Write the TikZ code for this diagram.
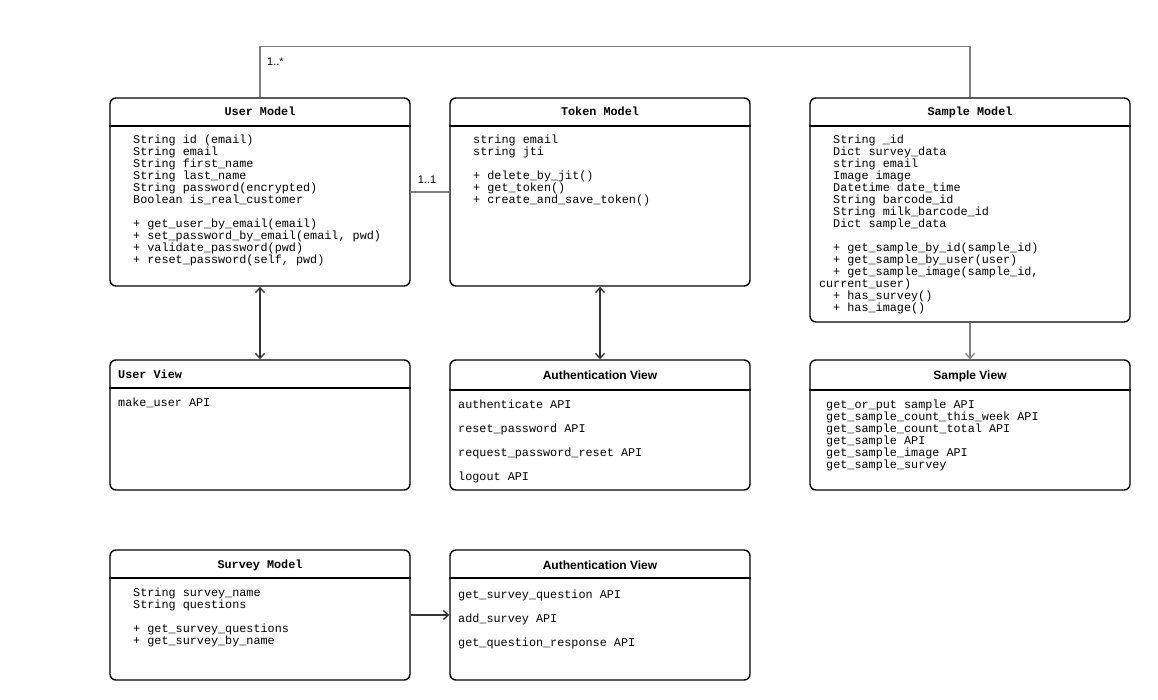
\documentclass[tikz,border=0pt]{standalone}
\usepackage{fontspec}
\setmainfont{Liberation Sans}
\setsansfont{Liberation Sans}
\setmonofont{Liberation Mono}
\usepackage{tikz}
\usetikzlibrary{arrows.meta, positioning}

\begin{document}
\begin{tikzpicture}[x=1pt, y=-1pt,
        umlbox/.style={draw, line width=1.4pt, rounded corners=6pt, inner sep=0pt},
        sepline/.style={line width=1.4pt},
        mono/.style={font=\ttfamily\fontsize{11.8}{12}\selectfont, align=left, anchor=base west, inner sep=0pt},
        monowide/.style={font=\ttfamily\fontsize{11.8}{24}\selectfont, align=left, anchor=base west, inner sep=0pt},
        headmono/.style={font=\ttfamily\bfseries\fontsize{11.8}{12}\selectfont, anchor=base, inner sep=0pt},
        headsans/.style={font=\sffamily\bfseries\fontsize{12}{14}\selectfont, anchor=base, inner sep=0pt},
        mult/.style={font=\sffamily\fontsize{11}{13}\selectfont, inner sep=0pt},
        link/.style={draw=gray, line width=1.3pt},
        tip/.tip={Straight Barb[length=5pt, width=9pt]},
        dbl/.style={draw=black!80, line width=1.3pt, tip-tip},
        one/.style={draw=black!80, line width=1.3pt, -tip}]
        \useasboundingbox (0,0) rectangle (1158,700);
        % boxes
        \node[umlbox, minimum width=300pt, minimum height=188pt] (user) at (260,192) {};
        \node[umlbox, minimum width=300pt, minimum height=188pt] (token) at (600,192) {};
        \node[umlbox, minimum width=320pt, minimum height=224pt] (sample) at (970,210) {};
        \node[umlbox, minimum width=300pt, minimum height=130pt] (userview) at (260,425) {};
        \node[umlbox, minimum width=300pt, minimum height=130pt] (authview) at (600,425) {};
        \node[umlbox, minimum width=320pt, minimum height=130pt] (sampleview) at (970,425) {};
        \node[umlbox, minimum width=300pt, minimum height=130pt] (survey) at (260,615) {};
        \node[umlbox, minimum width=300pt, minimum height=130pt] (surveyview) at (600,615) {};
        % header lines
        \draw[sepline] (user.west |- 0,126) -- (user.east |- 0,126);
        \draw[sepline] (token.west |- 0,126) -- (token.east |- 0,126);
        \draw[sepline] (sample.west |- 0,126) -- (sample.east |- 0,126);
        \draw[sepline] (userview.west |- 0,388) -- (userview.east |- 0,388);
        \draw[sepline] (authview.west |- 0,390) -- (authview.east |- 0,390);
        \draw[sepline] (sampleview.west |- 0,390) -- (sampleview.east |- 0,390);
        \draw[sepline] (survey.west |- 0,578) -- (survey.east |- 0,578);
        \draw[sepline] (surveyview.west |- 0,578) -- (surveyview.east |- 0,578);
        % headers
        \node[headmono] (userhd) at (260,116) {User Model};
        \node[headmono] (tokenhd) at (600,116) {Token Model};
        \node[headmono] (samplehd) at (970,116) {Sample Model};
        \node[headmono, anchor=base west] (userviewhd) at (118,378) {User View};
        \node[headsans] (authviewhd) at (600,379) {Authentication View};
        \node[headsans] (sampleviewhd) at (970,379) {Sample View};
        \node[headmono] (surveyhd) at (260,568) {Survey Model};
        \node[headsans] (surveyviewhd) at (600,569) {Authentication View};
        % contents (anchored at the baseline of the last line)
        \node[mono] (userattr) at (133,264) {String id (email)\\String email\\String first\_name\\String last\_name\\String password(encrypted)\\Boolean is\_real\_customer\\[12pt]+ get\_user\_by\_email(email)\\+ set\_password\_by\_email(email, pwd)\\+ validate\_password(pwd)\\+ reset\_password(self, pwd)};
        \node[mono] (tokenattr) at (473,204) {string email\\string jti\\[12pt]+ delete\_by\_jit()\\+ get\_token()\\+ create\_and\_save\_token()};
        \node[mono] (sampleattr) at (833,312) {String \_id\\Dict survey\_data\\string email\\Image image\\Datetime date\_time\\String barcode\_id\\String milk\_barcode\_id\\Dict sample\_data\\[12pt]+ get\_sample\_by\_id(sample\_id)\\+ get\_sample\_by\_user(user)\\+ get\_sample\_image(sample\_id,\\\llap{cu}rrent\_user)\\+ has\_survey()\\+ has\_image()};
        \node[mono] (userviewapi) at (118,406) {make\_user API};
        \node[monowide] (authviewapi) at (458,480) {authenticate API\\reset\_password API\\request\_password\_reset API\\logout API};
        \node[mono] (sampleviewapi) at (826,468) {get\_or\_put sample API\\get\_sample\_count\_this\_week API\\get\_sample\_count\_total API\\get\_sample API\\get\_sample\_image API\\get\_sample\_survey};
        \node[mono] (surveyattr) at (133,644) {String survey\_name\\String questions\\[12pt]+ get\_survey\_questions\\+ get\_survey\_by\_name};
        \node[monowide] (surveyviewapi) at (458,646) {get\_survey\_question API\\add\_survey API\\get\_question\_response API};
        % connectors
        \draw[link] (user.north) -- ++(0,-51) coordinate (turn) -| (sample.north);
        \node[mult, below right=11pt and 7pt of turn] (manyA) {1..*};
        \draw[link] (user) -- node[mult, above=8pt, xshift=-3pt] (oneA) {1..1} (token);
        \draw[dbl] (user) -- (userview);
        \draw[dbl] (token) -- (authview);
        \draw[link, -tip] (sample) -- (sampleview);
        \draw[one] (survey) -- (surveyview);
    \end{tikzpicture}
\end{document}
